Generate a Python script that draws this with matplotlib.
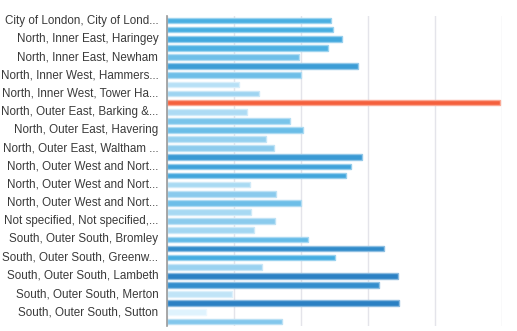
import matplotlib
matplotlib.use("Agg")
import matplotlib.pyplot as plt
import matplotlib.transforms as mtransforms
import numpy as np
from matplotlib.colors import LinearSegmentedColormap, to_rgb

# Values per borough, top to bottom
values = [48.9, 49.5, 52.2, 48.0, 39.2, 56.8, 39.8, 21.3, 27.3, 99.3,
          23.7, 36.6, 40.5, 29.6, 31.9, 58.1, 54.8, 53.2, 24.6, 32.4,
          39.8, 25.1, 32.1, 25.9, 42.0, 64.6, 50.0, 28.3, 68.8, 63.1,
          19.2, 69.3, 11.7, 34.2]

# Labels shown on every other bar
tick_labels = [
    "City of London, City of Lond...",
    "North, Inner East, Haringey",
    "North, Inner East, Newham",
    "North, Inner West, Hammers...",
    "North, Inner West, Tower Ha...",
    "North, Outer East, Barking &...",
    "North, Outer East, Havering",
    "North, Outer East, Waltham ...",
    "North, Outer West and Nort...",
    "North, Outer West and Nort...",
    "North, Outer West and Nort...",
    "Not specified, Not specified,...",
    "South, Outer South, Bromley",
    "South, Outer South, Greenw...",
    "South, Outer South, Lambeth",
    "South, Outer South, Merton",
    "South, Outer South, Sutton",
]

plt.rcParams["font.family"] = ["Liberation Sans", "DejaVu Sans"]

fig = plt.figure(figsize=(5.17, 3.31), dpi=100)
ax = fig.add_axes([0.3236, 0.0151, 0.648, 0.9366])

vals = np.array(values)
n = len(vals)
ypos = np.arange(n)
imax = int(np.argmax(vals))

blues = LinearSegmentedColormap.from_list(
    "blues", ["#dff3fd", "#8fcdee", "#45ade1", "#2b80c3"])
others = np.delete(vals, imax)
vmin, vmax = others.min(), others.max()


def lighten(c, f=0.45):
    r, g, b = to_rgb(c)
    return (r + (1 - r) * f, g + (1 - g) * f, b + (1 - b) * f)


for i, v in enumerate(vals):
    if i == imax:
        col = "#f5603d"
    else:
        col = blues((v - vmin) / (vmax - vmin))
    ax.barh(ypos[i], v, height=0.62, color=col, edgecolor=lighten(col),
            linewidth=1.0, zorder=3)

ax.set_xlim(0, 100)
ax.set_ylim(n - 0.5, -0.5)
ax.set_xticks([0, 20, 40, 60, 80, 100])
ax.xaxis.grid(True, color="#e4e4ea", linewidth=1.0, zorder=0)
ax.tick_params(axis="x", length=0, labelbottom=False)
ax.set_yticks(ypos[::2])
ax.set_yticklabels(tick_labels, fontsize=8.4, color="#3a3a3a")
ax.tick_params(axis="y", length=0, pad=6.5)
shift = mtransforms.ScaledTranslation(0, 1.5 / 100, fig.dpi_scale_trans)
for lab in ax.get_yticklabels():
    lab.set_transform(lab.get_transform() + shift)
for s in ["top", "right", "bottom"]:
    ax.spines[s].set_visible(False)
ax.spines["left"].set_color("#999999")
ax.spines["left"].set_linewidth(1.2)
ax.spines["left"].set_zorder(4)

fig.savefig("out.png", dpi=100)
